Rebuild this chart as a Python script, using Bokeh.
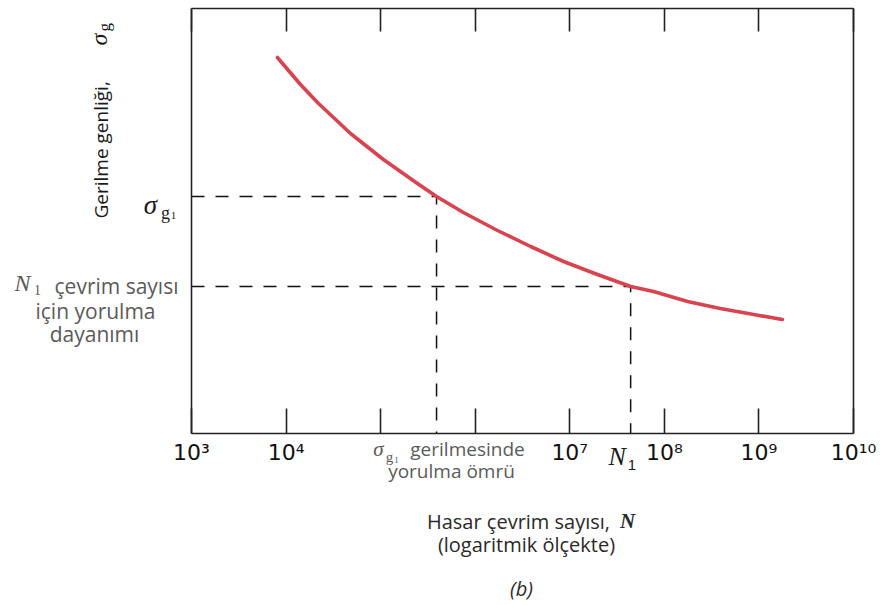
import numpy as np
from bokeh.plotting import figure
from bokeh.models import LogAxis, LinearAxis, Label, Range1d, FixedTicker
from bokeh.embed import file_html
from bokeh.resources import INLINE

# ---- data ----
cycles = [8.1e3, 1.42e4, 2.15e4, 4.8e4, 1.07e5, 2.45e5, 3.9e5, 7.5e5, 1.72e6,
          3.85e6, 8.6e6, 1.96e7, 4.4e7, 7.7e7, 1.76e8, 3.9e8, 8.8e8, 1.77e9]
stress = [376, 349, 331, 300, 274, 250, 237, 221, 203,
          187, 172, 159, 147, 142, 132, 125, 119, 114]
tick_values = [1e3, 1e4, 1e5, 1e6, 1e7, 1e8, 1e9, 1e10]
tick_labels = ["10³", "10⁴", "", "", "10⁷", "10⁸", "10⁹", "10¹⁰"]
N_sigma_g1 = 3.9e5      # fatigue life at sigma_g1
sigma_g1 = 237
N1 = 4.4e7
sigma_N1 = 147
X0, X1 = 1e3, 1e10      # axis extent
Y0, Y1 = 0, 425

# page layout: the plotting box spans pixels x 191..853, y 8..433
W, H = 880, 605
BL, BR, BT, BB = 191, 853, 8, 433
PX_DEC = (BR - BL) / 7.0

def xd(px):
    return 10 ** (3 + (px - BL) / PX_DEC)

def yd(py):
    return BB - py

p = figure(x_axis_type="log",
           x_range=Range1d(xd(0), xd(W)), y_range=Range1d(yd(H), yd(0)),
           width=W, height=H,
           min_border_left=0, min_border_right=0, min_border_top=0, min_border_bottom=0,
           toolbar_location=None, output_backend="svg",
           y_axis_location=None, x_axis_location=None)
p.grid.visible = False
p.outline_line_color = None
p.background_fill_color = "white"
p.border_fill_color = "white"

ticker = FixedTicker(ticks=tick_values, minor_ticks=[])
LC = "#222222"
LW = 1.6

def style_axis(ax):
    ax.major_tick_in = 25
    ax.major_tick_out = 0
    ax.minor_tick_in = 0
    ax.minor_tick_out = 0
    ax.major_tick_line_color = LC
    ax.major_tick_line_width = LW
    ax.axis_line_color = LC
    ax.axis_line_width = LW

bottom = LogAxis(ticker=ticker, fixed_location=Y0, bounds=(X0, X1))
style_axis(bottom)
bottom.major_label_overrides = {v: t for v, t in zip(tick_values, tick_labels)}
bottom.major_label_text_font = "DejaVu Sans"
bottom.major_label_text_font_size = "22px"
bottom.major_label_text_color = "#111111"
bottom.major_label_standoff = 6
p.add_layout(bottom, "below")

top = LogAxis(ticker=ticker, fixed_location=Y1, bounds=(X0, X1))
style_axis(top)
top.major_tick_in = 23
top.major_label_text_font_size = "0px"
top.major_label_standoff = 0
top.major_label_text_color = None
p.add_layout(top, "above")

for loc, side in ((X0, "left"), (X1, "right")):
    ax = LinearAxis(ticker=FixedTicker(ticks=[]), fixed_location=loc, bounds=(Y0, Y1))
    style_axis(ax)
    ax.major_label_text_color = None
    ax.major_label_text_font_size = "0px"
    ax.major_label_standoff = 0
    p.add_layout(ax, side)

# dashed guides
p.line([X0, N_sigma_g1, N_sigma_g1], [sigma_g1, sigma_g1, Y0],
       line_color="#111111", line_width=1.5, line_dash="13 11")
p.line([X0, N1, N1], [sigma_N1, sigma_N1, Y0],
       line_color="#111111", line_width=1.5, line_dash="13 11")

# S-N curve
p.line(cycles, stress, line_color="#d9434f", line_width=3.6,
       line_cap="round", line_join="round")

def lab(px, py, text, size, font="Open Sans", style="normal", color="#222222",
        align="center", baseline="middle", angle=0.0, x=None, y=None):
    p.add_layout(Label(x=xd(px) if x is None else x, y=yd(py) if y is None else y,
                       text=text, text_font=font,
                       text_font_size=f"{size}px", text_font_style=style,
                       text_color=color, text_align=align, text_baseline=baseline,
                       angle=angle))

SERIF = "Liberation Serif"
GREY = "#5a5a5a"
DARK = "#1a1a1a"
TITLE = "#2a2a2a"

# y-axis title (rotated)
lab(100, 218, "Gerilme genliği,", 19, align="left", angle=np.pi / 2, color=DARK)
lab(98, 45, "σ", 24, font=SERIF, style="italic", align="left", angle=np.pi / 2, color=DARK)
lab(104, 31, "g", 17, font=SERIF, align="left", angle=np.pi / 2, color=DARK)

# sigma_g1 on the left
lab(150, 204, "σ", 27, font=SERIF, style="italic", color=DARK)
lab(165, 212, "g", 18, font=SERIF, color=DARK)
lab(173, 215, "1", 11, font=SERIF, color=DARK)

# N1 fatigue strength text on the left
lab(22, 282, "N", 24, font=SERIF, style="italic", color=GREY)
lab(37, 289, "1", 14, font=SERIF, color=GREY)
lab(116, 285, "çevrim sayısı", 21, color=GREY)
lab(95, 310, "için yorulma", 21, color=GREY)
lab(94, 333, "dayanımı", 21, color=GREY)

# fatigue life at sigma_g1 under axis
lab(378, 448, "σ", 21, font=SERIF, style="italic", color=GREY)
lab(389, 456, "g", 15, font=SERIF, color=GREY)
lab(396, 459, "1", 9, font=SERIF, color=GREY)
lab(467, 448, "gerilmesinde", 19, color=GREY)
lab(451, 470, "yorulma ömrü", 19, color=GREY)

# N1 under axis
lab(0, 456, "N", 26, font=SERIF, style="italic", color=DARK, x=N1 * 0.72)
lab(0, 464, "1", 15, font="Liberation Sans", color=DARK, x=N1 * 1.03)

# x-axis title
lab(518, 521, "Hasar çevrim sayısı,", 20, color=TITLE)
lab(627, 520, "N", 21, font=SERIF, style="bold italic", color=TITLE)
lab(526, 544, "(logaritmik ölçekte)", 20, color=TITLE)
lab(521, 588, "(b)", 20, style="italic", color=TITLE)

open("out.html", "w").write(file_html(p, INLINE))
